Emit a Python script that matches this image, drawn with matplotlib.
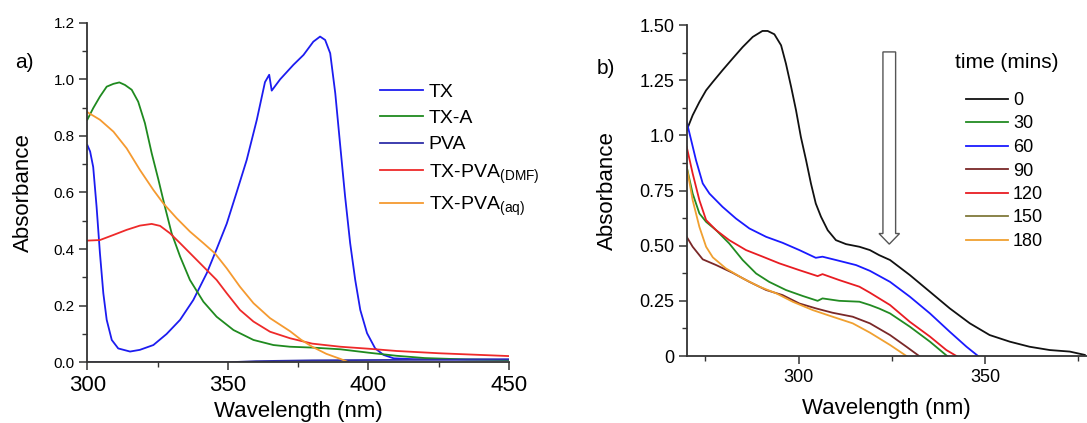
import numpy as np
import matplotlib
matplotlib.use('Agg')
from matplotlib import pyplot as plt
from matplotlib.patches import FancyArrow
from matplotlib.ticker import MultipleLocator, FixedLocator, FixedFormatter

plt.rcParams['font.family'] = ['Liberation Sans', 'DejaVu Sans']
plt.rcParams['mathtext.fontset'] = 'custom'
plt.rcParams['mathtext.rm'] = 'Liberation Sans'

# ---- panel a data (wavelength nm, absorbance) ----
tx_wl = [300, 301.0, 302.1, 303.3, 304.5, 305.7, 306.9, 308.7, 311.0, 315.2, 318.7, 323.5,
         328.2, 333.0, 337.7, 342.5, 346.0, 349.6, 353.1, 356.7, 360.3, 363.2, 364.7, 365.6,
         368.6, 373.3, 376.9, 380.4, 382.8, 384.6, 386.4, 388.2, 390.0, 391.7, 393.5, 395.3,
         397.1, 399.5, 402.4, 405.4, 409.0, 416.1, 430, 450]
tx_abs = [0.768, 0.745, 0.69, 0.55, 0.385, 0.244, 0.15, 0.079, 0.049, 0.038, 0.044, 0.061,
          0.10, 0.15, 0.22, 0.315, 0.40, 0.49, 0.60, 0.715, 0.857, 0.99, 1.016, 0.96,
          1.0, 1.051, 1.086, 1.133, 1.151, 1.139, 1.092, 0.951, 0.762, 0.586, 0.421, 0.291,
          0.185, 0.103, 0.049, 0.026, 0.014, 0.011, 0.010, 0.010]

txa_wl = [300, 302.1, 304.5, 306.9, 309.3, 311.4, 313.4, 315.8, 318.1, 320.5, 322.9, 325.3,
          327.6, 330.0, 333.0, 336.5, 341.3, 346.0, 352.0, 359.1, 366.2, 372.1, 380, 390,
          400, 410, 420, 435, 450]
txa_abs = [0.857, 0.898, 0.939, 0.974, 0.984, 0.989, 0.980, 0.963, 0.921, 0.845, 0.739, 0.645,
           0.55, 0.456, 0.374, 0.291, 0.214, 0.161, 0.114, 0.079, 0.061, 0.055, 0.052, 0.046,
           0.034, 0.023, 0.015, 0.010, 0.008]

pva_wl = [300, 350, 360, 380, 400, 450]
pva_abs = [0.0, 0.0, 0.004, 0.007, 0.008, 0.010]

dmf_wl = [300, 304.5, 309.3, 314.0, 318.7, 322.9, 325.9, 329.4, 333.0, 337.7, 342.5, 346.0,
          349.6, 354.3, 359.1, 365.0, 372.1, 380, 390, 400, 410, 425, 440, 450]
dmf_abs = [0.43, 0.432, 0.45, 0.468, 0.483, 0.489, 0.482, 0.456, 0.421, 0.374, 0.326, 0.291,
           0.244, 0.185, 0.144, 0.108, 0.085, 0.066, 0.055, 0.048, 0.040, 0.032, 0.026, 0.022]

aq_wl = [300, 304.5, 309.3, 314.0, 318.7, 323.5, 327.0, 331.8, 336.5, 341.3, 345.4, 349.6,
         354.3, 359.1, 365.0, 372.1, 376, 380, 385, 390, 393]
aq_abs = [0.884, 0.857, 0.815, 0.756, 0.68, 0.609, 0.562, 0.509, 0.462, 0.421, 0.385, 0.332,
          0.267, 0.209, 0.156, 0.11, 0.08, 0.055, 0.03, 0.012, 0.0]

# ---- panel b data ----
t0_wl = [270, 271.6, 273.4, 275.2, 277.0, 279.6, 282.3, 285.0, 287.7, 290.3, 291.7, 293.5,
         295.3, 296.6, 298.0, 299.3, 300.6, 302.0, 303.3, 304.6, 306.0, 307.8, 310.0, 312.7,
         316.3, 319.1, 321.6, 324.5, 329.8, 335.2, 340.5, 345.9, 351.2, 356.6, 361.9, 367.3,
         372.7, 376.7]
t0_abs = [1.023, 1.091, 1.151, 1.204, 1.242, 1.295, 1.348, 1.40, 1.446, 1.473, 1.473, 1.458,
          1.408, 1.325, 1.219, 1.114, 0.993, 0.887, 0.782, 0.691, 0.631, 0.57, 0.525, 0.507,
          0.495, 0.48, 0.457, 0.435, 0.367, 0.291, 0.216, 0.148, 0.095, 0.065, 0.042, 0.027,
          0.02, 0.005]

t30_wl = [270, 271.6, 273.4, 275.2, 277.9, 281.4, 285.0, 288.6, 292.1, 296.6, 301.1, 305.1,
          306.4, 310.9, 316.3, 319.1, 321.6, 324.5, 329.8, 335.2, 339.8]
t30_abs = [0.857, 0.736, 0.646, 0.608, 0.57, 0.51, 0.435, 0.374, 0.336, 0.299, 0.272, 0.25,
           0.261, 0.25, 0.246, 0.231, 0.215, 0.193, 0.133, 0.065, 0.0]

t60_wl = [270, 271.2, 272.5, 274.3, 276.1, 279.6, 283.2, 286.8, 291.3, 295.7, 300.2, 304.6,
          306.4, 310.0, 315.4, 319.1, 324.5, 329.8, 335.2, 340.5, 345.0, 348.1]
t60_abs = [1.061, 0.978, 0.887, 0.782, 0.736, 0.676, 0.623, 0.578, 0.54, 0.513, 0.48, 0.445,
           0.45, 0.435, 0.412, 0.386, 0.336, 0.269, 0.193, 0.11, 0.042, 0.0]

t90_wl = [270, 271.6, 274.3, 277.9, 282.3, 286.8, 291.3, 295.7, 300.2, 304.6, 309.1, 314.5,
          319.1, 324.5, 328.9, 332.3]
t90_abs = [0.54, 0.495, 0.438, 0.412, 0.377, 0.336, 0.299, 0.276, 0.238, 0.216, 0.196, 0.178,
           0.148, 0.095, 0.042, 0.0]

t120_wl = [270, 271.6, 273.4, 275.2, 277.9, 281.4, 285.9, 290.4, 294.8, 300.2, 305.1, 306.4,
           310.9, 316.3, 319.1, 324.5, 329.8, 335.2, 339.6, 342.3]
t120_abs = [0.948, 0.827, 0.706, 0.616, 0.57, 0.525, 0.48, 0.45, 0.42, 0.389, 0.362, 0.371,
            0.344, 0.314, 0.287, 0.231, 0.155, 0.088, 0.027, 0.0]

t150_wl = []
t150_abs = []

t180_wl = [270, 271.6, 273.4, 275.2, 277.0, 280.5, 285.0, 289.5, 294.0, 298.4, 303.8, 309.1,
           314.5, 319.1, 324.5, 328.9]
t180_abs = [0.857, 0.706, 0.585, 0.495, 0.447, 0.397, 0.352, 0.314, 0.284, 0.246, 0.208, 0.178,
            0.148, 0.106, 0.05, 0.0]

labels_a = ['TX', 'TX-A', 'PVA', r'TX-PVA$_{\mathrm{(DMF)}}$', r'TX-PVA$_{\mathrm{(aq)}}$']
colors_a = ['#1c1cf0', '#1f8a1f', '#2e2ea8', '#ee2a2a', '#f59a30']
times = ['0', '30', '60', '90', '120', '150', '180']
colors_b = ['#111111', '#228b22', '#1a1aff', '#7a2828', '#e81c22', '#807a3a', '#f0a030']

yticks_b = [0, 0.25, 0.5, 0.75, 1.0, 1.25, 1.5]
ylabels_b = ['0', '0.25', '0.50', '0.75', '1.0', '1.25', '1.50']

W, H = 1087, 423
fig = plt.figure(figsize=(W / 100, H / 100), dpi=100)

spine_col = '#333333'

def style_axes(ax):
	for s in ['top', 'right']:
		ax.spines[s].set_visible(False)
	for s in ['left', 'bottom']:
		ax.spines[s].set_linewidth(1.3)
		ax.spines[s].set_color(spine_col)
	ax.tick_params(which='major', direction='out', length=6, width=1.1, color=spine_col)
	ax.tick_params(which='minor', direction='out', length=3.5, width=1.0, color=spine_col)

# panel a
ax1 = fig.add_axes([87.3 / W, (H - 362.3) / H, (509 - 87.3) / W, (362.3 - 22.7) / H])
series_a = [(tx_wl, tx_abs), (txa_wl, txa_abs), (pva_wl, pva_abs), (dmf_wl, dmf_abs), (aq_wl, aq_abs)]
for (x, y), lab, c in zip(series_a, labels_a, colors_a):
	ax1.plot(x, y, color=c, lw=1.3, label=lab)
ax1.set_xlim(300, 450)
ax1.set_ylim(0, 1.2)
ax1.xaxis.set_major_locator(MultipleLocator(50))
ax1.xaxis.set_minor_locator(MultipleLocator(25))
ax1.yaxis.set_major_locator(MultipleLocator(0.2))
ax1.yaxis.set_minor_locator(MultipleLocator(0.1))
ax1.yaxis.set_major_formatter(matplotlib.ticker.FormatStrFormatter('%.1f'))
style_axes(ax1)
ax1.tick_params(axis='x', labelsize=16, pad=3)
ax1.tick_params(axis='y', labelsize=11, pad=3)
ax1.set_xlabel('Wavelength (nm)', fontsize=16, labelpad=4)
ax1.set_ylabel('Absorbance', fontsize=16, labelpad=14)
ax1.legend(loc='upper left', bbox_to_anchor=(380 / W, (H - 83) / H), bbox_transform=fig.transFigure,
		   frameon=False, fontsize=14, handlelength=2.2, handletextpad=0.3, labelspacing=0.45,
		   borderpad=0, borderaxespad=0)
fig.text(15 / W, (H - 62) / H, 'a)', fontsize=15, va='center', ha='left')

# panel b
ax2 = fig.add_axes([686.7 / W, (H - 356) / H, (W - 686.7) / W, 331 / H])
series_b = [(t0_wl, t0_abs), (t30_wl, t30_abs), (t60_wl, t60_abs), (t90_wl, t90_abs),
			(t120_wl, t120_abs), (t150_wl, t150_abs), (t180_wl, t180_abs)]
for (x, y), lab, c in zip(series_b, times, colors_b):
	ax2.plot(x, y, color=c, lw=1.3, label=lab)
ax2.set_xlim(270, 377.3)
ax2.set_ylim(0, 1.5)
ax2.xaxis.set_major_locator(MultipleLocator(50))
ax2.xaxis.set_minor_locator(MultipleLocator(25))
ax2.yaxis.set_major_locator(FixedLocator(yticks_b))
ax2.yaxis.set_major_formatter(FixedFormatter(ylabels_b))
ax2.yaxis.set_minor_locator(MultipleLocator(0.125))
style_axes(ax2)
ax2.tick_params(axis='both', labelsize=13, pad=3)
ax2.set_xlabel('Wavelength (nm)', fontsize=16, labelpad=9)
ax2.set_ylabel('Absorbance', fontsize=16, labelpad=15)
ax2.legend(loc='upper left', bbox_to_anchor=(966 / W, (H - 92) / H), bbox_transform=fig.transFigure,
		   frameon=False, fontsize=13, handlelength=2.3, handletextpad=0.3, labelspacing=0.36,
		   borderpad=0, borderaxespad=0)
fig.text(955 / W, (H - 62) / H, 'time (mins)', fontsize=15, va='center', ha='left')
fig.text(597 / W, (H - 68) / H, 'b)', fontsize=15, va='center', ha='left')

# hollow arrow showing decrease over time
arr = FancyArrow(324.3, 1.378, 0, -(1.378 - 0.507), width=3.4, head_width=5.5, head_length=0.048,
				 length_includes_head=True, fc='white', ec='#555555', lw=1.0)
ax2.add_patch(arr)

fig.savefig('out.png', dpi=100)
